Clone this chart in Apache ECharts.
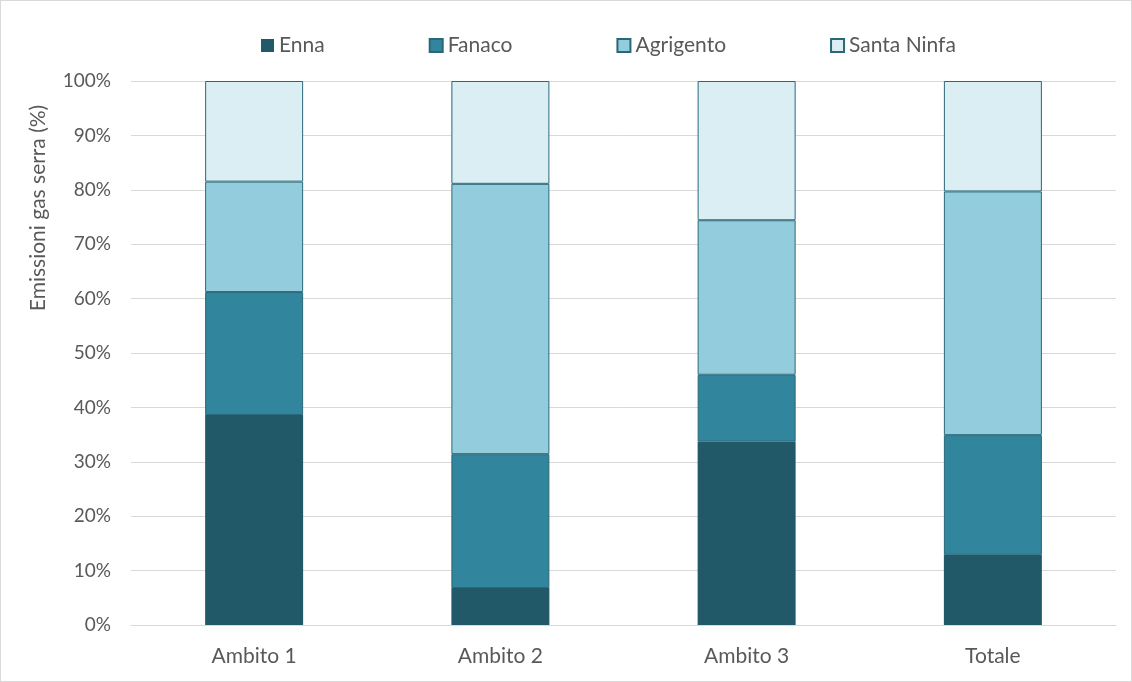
<!DOCTYPE html>
<html>
<head>
<meta charset="utf-8">
<script src="https://cdn.jsdelivr.net/npm/echarts@6/dist/echarts.min.js"></script>
<style>
html,body{margin:0;padding:0;background:#fff;}
#c{width:1130px;height:680px;border:1px solid #d9d9d9;}
</style>
</head>
<body>
<div id="c"></div>
<script>
const categories = ['Ambito 1', 'Ambito 2', 'Ambito 3', 'Totale'];
const seriesNames = ['Enna', 'Fanaco', 'Agrigento', 'Santa Ninfa'];
const enna = [38.6, 6.8, 33.7, 12.9];
const fanaco = [22.6, 24.6, 12.3, 22.0];
const agrigento = [20.3, 49.7, 28.4, 44.8];
const santaNinfa = [18.5, 18.9, 25.6, 20.3];
const yTicks = [0, 10, 20, 30, 40, 50, 60, 70, 80, 90, 100];
const colors = ['#215968', '#31859c', '#93cddd', '#dbeef4'];
const values = [enna, fanaco, agrigento, santaNinfa];
const font = 'Lato, "Open Sans", sans-serif';

const chart = echarts.init(document.getElementById('c'));
chart.setOption({
  animation: false,
  textStyle: { fontFamily: font },
  legend: {
    top: 29,
    left: 255,
    itemWidth: 13,
    itemHeight: 13,
    itemGap: 104,
    icon: 'rect',
    textStyle: { fontSize: 21, color: '#595959', fontFamily: font },
    data: seriesNames
  },
  grid: { left: 130, right: 15, top: 80, bottom: 56 },
  xAxis: {
    type: 'category',
    data: categories,
    axisTick: { show: false },
    axisLine: { lineStyle: { color: '#d9d9d9' } },
    axisLabel: { color: '#595959', fontSize: 21, margin: 21, fontFamily: font }
  },
  yAxis: {
    type: 'value',
    min: yTicks[0],
    max: yTicks[yTicks.length - 1],
    interval: 10,
    axisLine: { show: false },
    axisTick: { show: false },
    splitLine: { lineStyle: { color: '#d9d9d9' } },
    axisLabel: { color: '#595959', fontSize: 19, margin: 20, formatter: '{value}%', fontFamily: font }
  },
  graphic: [{
    type: 'text',
    x: 37,
    y: 207,
    rotation: Math.PI / 2,
    style: {
      text: 'Emissioni gas serra (%)',
      fontSize: 21,
      fontFamily: font,
      fill: '#595959',
      align: 'center',
      verticalAlign: 'middle'
    }
  }],
  series: seriesNames.map((n, i) => ({
    name: n,
    type: 'bar',
    stack: 'total',
    barWidth: 98,
    data: values[i],
    itemStyle: { color: colors[i], borderColor: '#2a6878', borderWidth: i === 0 ? 0 : 1 }
  }))
});
</script>
</body>
</html>
